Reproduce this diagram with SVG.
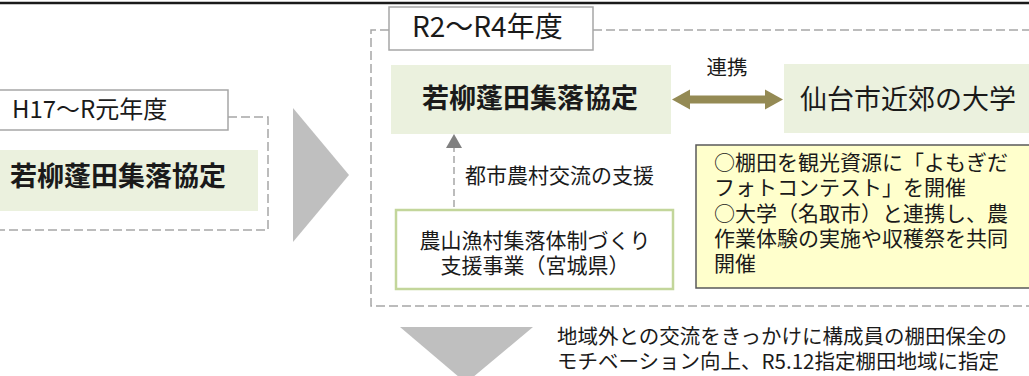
<svg xmlns="http://www.w3.org/2000/svg" width="1029" height="376" viewBox="0 0 1029 376">
<defs>
<style>
.t{font-family:"Noto Sans CJK JP","Noto Sans",sans-serif;fill:#1a1a1a}
.dash{fill:none;stroke:#a6a6a6;stroke-width:1.5;stroke-dasharray:9,4}
.lbl{fill:#fff;stroke:#a6a6a6;stroke-width:1.5}
.gf{fill:#ebf1de}
.tri{fill:#bfbfbf}
.ol{fill:#948a54}
</style>
</defs>
<rect width="1029" height="376" fill="#fff"/>
<line x1="0" y1="3" x2="1029" y2="3" stroke="#1a1a1a" stroke-width="2.5"/>

<g id="period1">
<path class="dash" d="M228,117H268V230H-2"/>
<rect class="lbl" x="-2" y="90" width="230" height="40"/>
<text class="t" x="12" y="118" font-size="24">H17～R元年度</text>
</g>
<g id="node-kyotei1">
<rect class="gf" x="-2" y="150" width="260" height="61"/>
<text class="t" x="118" y="186" font-size="27" font-weight="bold" text-anchor="middle">若柳蓬田集落協定</text>
</g>
<polygon id="arrow-right" class="tri" points="293,108 349,175 293,242"/>

<g id="period2">
<path class="dash" d="M389,30H371V306H1031M593,30H1031"/>
<rect class="lbl" x="389" y="7" width="204" height="43"/>
<text class="t" x="412" y="37" font-size="28">R2～R4年度</text>
</g>
<g id="node-kyotei2">
<rect class="gf" x="391" y="65" width="280" height="69"/>
<text class="t" x="530" y="108" font-size="27" font-weight="bold" text-anchor="middle">若柳蓬田集落協定</text>
</g>
<g id="node-univ">
<rect class="gf" x="784" y="64" width="247" height="69"/>
<text class="t" x="908" y="109" font-size="27" text-anchor="middle">仙台市近郊の大学</text>
</g>
<g id="node-support">
<rect x="396" y="210" width="277" height="79" fill="#fff" stroke="#c3d69b" stroke-width="2.5"/>
<text class="t" x="535" y="248" font-size="21" text-anchor="middle">農山漁村集落体制づくり</text>
<text class="t" x="535" y="273" font-size="21" text-anchor="middle">支援事業（宮城県）</text>
</g>
<g id="node-note">
<rect x="696" y="145" width="335" height="143" fill="#ffffcc" stroke="#595959" stroke-width="1.5"/>
<text class="t" font-size="21">
<tspan x="714" y="170">○棚田を観光資源に「よもぎだ</tspan>
<tspan x="714" y="195">フォトコンテスト」を開催</tspan>
<tspan x="714" y="221">○大学（名取市）と連携し、農</tspan>
<tspan x="714" y="246">作業体験の実施や収穫祭を共同</tspan>
<tspan x="714" y="271">開催</tspan>
</text>
</g>

<g id="connectors">
<rect class="ol" x="689" y="95.5" width="78" height="8"/>
<polygon class="ol" points="672,99.5 690,89.5 690,109.5"/>
<polygon class="ol" points="783,99.5 765,89.5 765,109.5"/>
<text class="t" x="727" y="75" font-size="20.5" text-anchor="middle">連携</text>
<line x1="454" y1="207" x2="454" y2="146" stroke="#a6a6a6" stroke-width="1.5" stroke-dasharray="7,4"/>
<polygon points="454,134 462,148 446,148" fill="#808080"/>
<text class="t" x="465" y="183" font-size="21">都市農村交流の支援</text>
</g>

<polygon id="arrow-down" class="tri" points="400,327 533,327 466,383"/>
<g id="conclusion">
<text class="t" x="557" y="344" font-size="20.5">地域外との交流をきっかけに構成員の棚田保全の</text>
<text class="t" x="557" y="369" font-size="20.5">モチベーション向上、R5.12指定棚田地域に指定</text>
</g>
</svg>
